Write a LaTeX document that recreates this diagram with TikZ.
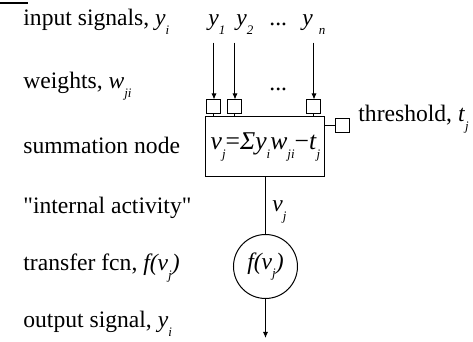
\documentclass[tikz,border=0pt]{standalone}
\usepackage{fontspec}
\setmainfont{Liberation Serif}
\usetikzlibrary{arrows.meta, positioning}
\newcommand{\sbs}[1]{\raisebox{-0.35em}{\fontsize{6.5}{7}\selectfont\itshape #1}}
\newcommand{\vj}{\textit{v}\sbs{j}}
\newcommand{\fvj}{\textit{f(v}\sbs{j}\textit{)}}

\begin{document}
\begin{tikzpicture}[
    x=0.5pt, y=0.5pt,
    every node/.style={font=\fontsize{11.8}{14}\selectfont, inner sep=0pt},
    rowlabel/.style={anchor=base west},
    line/.style={line width=0.5pt},
    wbox/.style={draw, line, minimum size=7pt},
    arr/.style={line, -{Latex[length=3pt, width=2.6pt]}},
]
    \useasboundingbox (0,0) rectangle (473,342);

    % cut-off rule at the top
    \draw[line width=0.8pt] (0,339) -- (28,339);

    % Row labels
    \node[rowlabel] (lin)  at (23,316) {input signals, \textit{y}\sbs{i}};
    \node[rowlabel] (lw)   at (23,253) {weights, \textit{w}\sbs{ji}};
    \node[rowlabel] (lsum) at (23,188) {summation node};
    \node[rowlabel] (lact) at (23,128) {\textquotedbl internal activity\textquotedbl};
    \node[rowlabel] (ltf)  at (23,71)  {transfer fcn, \fvj};
    \node[rowlabel] (lout) at (23,14)  {output signal, \textit{y}\sbs{i}};

    % Inputs
    \node[rowlabel] (y1)   at (208,316) {\textit{y}\sbs{1}};
    \node[rowlabel] (y2)   at (236,316) {\textit{y}\sbs{2}};
    \node[rowlabel] (ydot) at (269,316) {...};
    \node[rowlabel] (yn)   at (302,316) {\textit{y} \sbs{n}};

    % Weights
    \node[wbox] (w1) at (214,235) {};
    \node[wbox] (w2) at (235,235) {};
    \node[wbox] (wn) at (314,235) {};
    \node[rowlabel] (wdot) at (269,251) {...};

    % Summation node and threshold
    \node[draw, line, minimum width=59.5pt, minimum height=30pt,
          font=\fontsize{12.8}{15}\selectfont] (sum) at (265.5,195)
        {\vj=\textit{Σy}\sbs{i}\textit{w}\sbs{ji}−\textit{t}\sbs{j}};
    \node[wbox] (thr) at (343,216) {};
    \node[rowlabel] (lthr) at (358,220) {threshold, \textit{t}\sbs{j}};

    % Transfer function
    \node[draw, line, circle, minimum size=32pt] (f) at (265.5,75.5) {\fvj};
    \node[rowlabel] (act) at (272,130) {\vj};
    \coordinate (out) at (265.5,4);

    % Connectors
    \draw[arr] (y1.south -| w1) ++(0,-8) -- (w1.north);
    \draw[arr] (y2.south -| w2) ++(0,-8) -- (w2.north);
    \draw[arr] (yn.south -| wn) ++(0,-8) -- (wn.north);
    \draw[line] (w1.south) -- (w1.south |- sum.north);
    \draw[line] (w2.south) -- (w2.south |- sum.north);
    \draw[line] (wn.south) -- (wn.south |- sum.north);
    \draw[line] (sum.east |- thr) -- (thr.west);
    \draw[line] (sum.south) -- (f.north);
    \draw[arr] (f.south) -- (out);
\end{tikzpicture}
\end{document}
